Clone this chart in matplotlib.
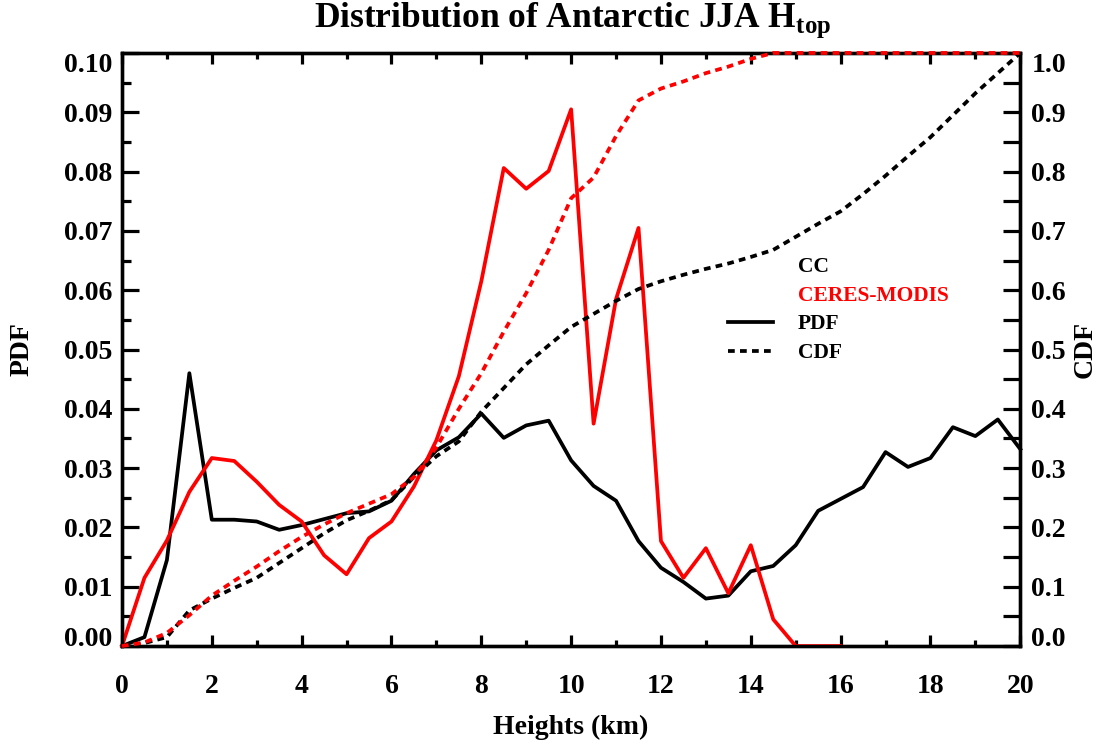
import matplotlib
matplotlib.use("Agg")
import matplotlib.pyplot as plt
from matplotlib.ticker import MultipleLocator

plt.rcParams['font.family'] = ['Liberation Serif', 'DejaVu Serif']
plt.rcParams['font.weight'] = 'bold'
plt.rcParams['axes.labelweight'] = 'bold'
plt.rcParams['mathtext.fontset'] = 'custom'
plt.rcParams['mathtext.rm'] = 'Liberation Serif:bold'
plt.rcParams['mathtext.bf'] = 'Liberation Serif:bold'

# heights (km), 0.5 km bins
heights = [0.0, 0.5, 1.0, 1.5, 2.0, 2.5, 3.0, 3.5, 4.0, 4.5,
           5.0, 5.5, 6.0, 6.5, 7.0, 7.5, 8.0, 8.5, 9.0, 9.5,
           10.0, 10.5, 11.0, 11.5, 12.0, 12.5, 13.0, 13.5, 14.0, 14.5,
           15.0, 15.5, 16.0, 16.5, 17.0, 17.5, 18.0, 18.5, 19.0, 19.5, 20.0]

# CC (black)
cc_pdf = [0.0, 0.0015, 0.0145, 0.0460, 0.0213, 0.0213, 0.0210, 0.0196, 0.0204, 0.0214,
          0.0224, 0.0227, 0.0245, 0.0290, 0.0330, 0.0352, 0.0392, 0.0351, 0.0372, 0.0380,
          0.0313, 0.0270, 0.0245, 0.0177, 0.0132, 0.0108, 0.0080, 0.0085, 0.0126, 0.0135,
          0.0170, 0.0228, 0.0248, 0.0268, 0.0327, 0.0302, 0.0317, 0.0369, 0.0354, 0.0382, 0.0332]
cc_cdf = [0.0, 0.005, 0.015, 0.06, 0.08, 0.098, 0.115, 0.14, 0.165, 0.19,
          0.212, 0.228, 0.246, 0.285, 0.32, 0.345, 0.395, 0.435, 0.475, 0.507,
          0.538, 0.56, 0.582, 0.602, 0.615, 0.626, 0.636, 0.645, 0.656, 0.668,
          0.69, 0.712, 0.733, 0.762, 0.793, 0.826, 0.858, 0.895, 0.932, 0.966, 1.0]

# CERES-MODIS (red); pdf only goes up to 16 km
cm_pdf = [0.0, 0.0115, 0.0178, 0.0260, 0.0317, 0.0312, 0.0277, 0.0238, 0.0210, 0.0153,
          0.0121, 0.0182, 0.0210, 0.0269, 0.0347, 0.0455, 0.0615, 0.0806, 0.0771, 0.0801,
          0.0905, 0.0375, 0.0585, 0.0705, 0.0177, 0.0115, 0.0165, 0.0089, 0.0170, 0.0045,
          0.0, 0.0, 0.0]
cm_cdf = [0.0, 0.006, 0.022, 0.052, 0.085, 0.11, 0.134, 0.16, 0.184, 0.205,
          0.224, 0.24, 0.256, 0.285, 0.335, 0.40, 0.46, 0.53, 0.595, 0.668,
          0.755, 0.79, 0.86, 0.92, 0.94, 0.952, 0.966, 0.977, 0.99, 1.0,
          1.0, 1.0, 1.0, 1.0, 1.0, 1.0, 1.0, 1.0, 1.0, 1.0, 1.0]

lw = 2.7
dots = (0, (1.8, 1.4))

fig = plt.figure(figsize=(11.09, 7.46), dpi=100)
ax = fig.add_axes([0.110, 0.134, 0.810, 0.795])
ax2 = ax.twinx()

ax.plot(heights, cc_pdf, color='black', lw=lw, zorder=3, clip_on=False)
ax.plot(heights[:len(cm_pdf)], cm_pdf, color='red', lw=lw, zorder=4, clip_on=False)
ax2.plot(heights, cc_cdf, color='black', lw=lw, ls=dots, zorder=3, clip_on=False)
ax2.plot(heights, cm_cdf, color='red', lw=lw, ls=dots, zorder=4, clip_on=False)

ax.set_xlim(0, 20)
ax.set_ylim(0, 0.1)
ax2.set_ylim(0, 1.0)

ax.set_xticks([0, 2, 4, 6, 8, 10, 12, 14, 16, 18, 20])
ax.xaxis.set_minor_locator(MultipleLocator(1))
ax.set_yticks([0.0, 0.01, 0.02, 0.03, 0.04, 0.05, 0.06, 0.07, 0.08, 0.09, 0.10])
ax.set_yticklabels(['%.2f' % v for v in ax.get_yticks()])
ax.yaxis.set_minor_locator(MultipleLocator(0.005))
ax2.set_yticks([0.0, 0.1, 0.2, 0.3, 0.4, 0.5, 0.6, 0.7, 0.8, 0.9, 1.0])
ax2.set_yticklabels(['%.1f' % v for v in ax2.get_yticks()])
ax2.yaxis.set_minor_locator(MultipleLocator(0.05))

ax.tick_params(axis='x', which='both', direction='in', top=True, width=2.3,
               labelsize=20, pad=20)
ax.tick_params(axis='x', which='major', length=8)
ax.tick_params(axis='x', which='minor', length=4)
ax.tick_params(axis='y', which='both', direction='in', left=True, right=False,
               width=2.3, labelsize=20, pad=7)
ax.tick_params(axis='y', which='major', length=12)
ax.tick_params(axis='y', which='minor', length=6.5)
ax2.tick_params(axis='y', which='both', direction='in', width=2.3, length=12,
                labelsize=20, pad=8)

for a in (ax, ax2):
    for s in a.spines.values():
        s.set_linewidth(2.4)

# IDL keeps the end labels inside the box
ax.yaxis.get_major_ticks()[-1].label1.set_va('top')
ax.yaxis.get_major_ticks()[0].label1.set_va('baseline')
ax2.yaxis.get_major_ticks()[-1].label2.set_va('top')
ax2.yaxis.get_major_ticks()[0].label2.set_va('baseline')

ax.set_xlabel('Heights (km)', fontsize=20, fontweight='bold', va='center')
ax.xaxis.set_label_coords(0.5, -0.138)
ax.set_ylabel('PDF', fontsize=20, fontweight='bold', va='center')
ax.yaxis.set_label_coords(-0.111, 0.5)
ax2.set_ylabel('CDF', fontsize=20, fontweight='bold', va='center')
ax2.yaxis.set_label_coords(1.072, 0.5)

fig.text(0.516, 1 - 20 / 746, 'Distribution of Antarctic JJA H$_{\\mathrm{top}}$',
         ha='center', va='center', fontsize=25.5, fontweight='bold')

# legend
tx = 0.752
ax.text(tx, 0.639, 'CC', color='black', fontsize=15.5, va='center', transform=ax.transAxes)
ax.text(tx, 0.590, 'CERES-MODIS', color='red', fontsize=15.5, va='center', transform=ax.transAxes)
ax.text(tx, 0.543, 'PDF', color='black', fontsize=15.5, va='center', transform=ax.transAxes)
ax.text(tx, 0.494, 'CDF', color='black', fontsize=15.5, va='center', transform=ax.transAxes)
ax.plot([0.675, 0.725], [0.547, 0.547], color='black', lw=lw, transform=ax.transAxes)
ax.plot([0.675, 0.725], [0.498, 0.498], color='black', lw=lw, ls=dots, transform=ax.transAxes)

fig.savefig('out.png', dpi=100)
